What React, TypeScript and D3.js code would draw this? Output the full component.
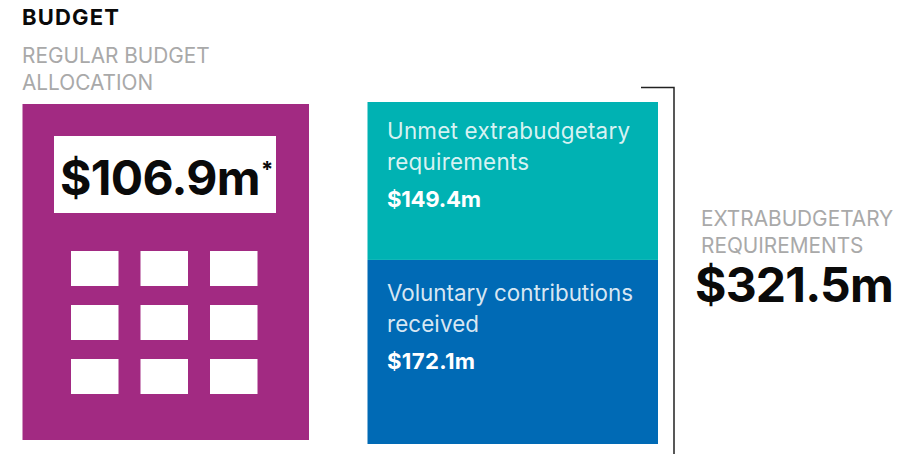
import React from 'react'
import * as d3 from 'd3'

const WIDTH = 909
const HEIGHT = 454
const FONT = 'Inter, Lato, sans-serif'

const segmentNames = ['Voluntary contributions received', 'Unmet extrabudgetary requirements']
const segmentValues = [172.1, 149.4]
const segmentLabels = ['$172.1m', '$149.4m']
const segmentLines = [['Voluntary contributions', 'received'], ['Unmet extrabudgetary', 'requirements']]
const segmentColors = ['#006ab5', '#00b2b3']

const regularBudget = '$106.9m'
const extraTotal = '$321.5m'
const keyRows = [0, 1, 2]
const keyCols = [0, 1, 2]

const App = () => {
  const total = d3.sum(segmentValues)
  const y = d3.scaleLinear().domain([0, total]).range([444, 102])
  const cumulative = d3.cumsum(segmentValues)

  const keyX = d3.scaleBand<number>().domain(keyCols).range([71, 257.5]).paddingInner(0.3165)
  const keyY = d3.scaleBand<number>().domain(keyRows).range([251, 394]).paddingInner(0.352)

  return (
    <svg
      width={WIDTH}
      height={HEIGHT}
      viewBox={`0 0 ${WIDTH} ${HEIGHT}`}
      style={{ position: 'absolute', left: 0, top: 0, background: '#fff', fontFamily: FONT }}
    >
      <text x={22} y={25} fontSize={22} fontWeight={700} textLength={97} fill="#0a0a0a">BUDGET</text>
      <text x={22} y={62.7} fontSize={20.8} fill="#a9a9a9">REGULAR BUDGET</text>
      <text x={22} y={89.7} fontSize={20.8} fill="#a9a9a9">ALLOCATION</text>

      {/* calculator */}
      <rect x={22.5} y={104} width={286.5} height={336} fill="#a22a82" />
      <rect x={54} y={136} width={222} height={77} fill="#fff" />
      <text x={60} y={195} fontSize={48} fontWeight={700} letterSpacing={-0.7} fill="#0a0a0a">{regularBudget}</text>
      <text x={261} y={177} fontSize={22} fontWeight={700} fill="#0a0a0a">*</text>
      {keyRows.map((r) =>
        keyCols.map((c) => (
          <rect key={`${r}-${c}`} x={keyX(c)} y={keyY(r)} width={keyX.bandwidth()} height={keyY.bandwidth()} fill="#fff" />
        ))
      )}

      {/* stacked column, the split sits a pixel above the true value in the original */}
      {segmentNames.map((name, i) => {
        const bottom = y(cumulative[i] - segmentValues[i]) - (i === 1 ? 1 : 0)
        const top = y(cumulative[i]) - (i === 0 ? 1 : 0)
        const pad = i === 0 ? 41 : 37
        return (
          <g key={name}>
            <rect x={367.5} y={top} width={290.5} height={bottom - top} fill={segmentColors[i]} />
            <text x={387} y={top + pad} fontSize={22.4} fill="#fff" fillOpacity={0.85} textLength={i === 0 ? 246 : 243}>{segmentLines[i][0]}</text>
            <text x={387} y={top + pad + 31} fontSize={22.4} fill="#fff" fillOpacity={0.85} textLength={i === 0 ? 92 : 142}>{segmentLines[i][1]}</text>
            <text x={387} y={top + pad + 68} fontSize={22.2} fontWeight={700} fill="#fff" textLength={i === 0 ? 88 : 94}>{segmentLabels[i]}</text>
          </g>
        )
      })}

      {/* bracket */}
      <path d="M641,87.5H674V454" fill="none" stroke="#222" strokeWidth={1.5} />

      <text x={701} y={225.7} fontSize={20.8} fill="#a9a9a9">EXTRABUDGETARY</text>
      <text x={701} y={252.7} fontSize={20.8} fill="#a9a9a9">REQUIREMENTS</text>
      <text x={695} y={302} fontSize={48} fontWeight={700} letterSpacing={-0.8} fill="#0a0a0a">{extraTotal}</text>
    </svg>
  )
}

export default App
